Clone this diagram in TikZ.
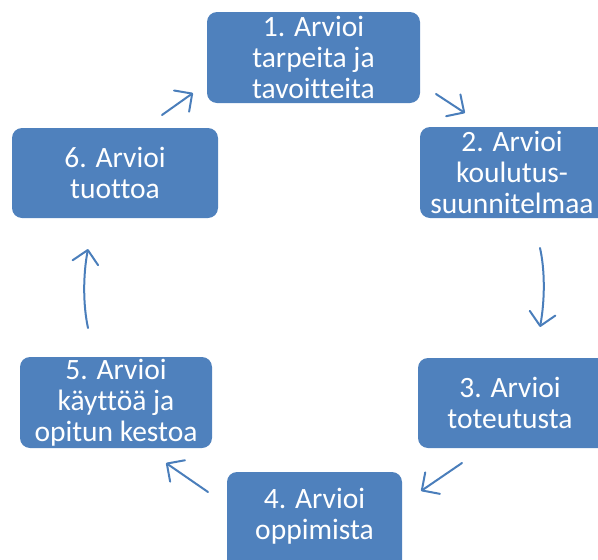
\documentclass[tikz,border=0pt]{standalone}
\usepackage{fontspec}
\setmainfont[Ligatures=NoCommon]{Carlito}
\usetikzlibrary{arrows.meta}
\definecolor{boxblue}{HTML}{4F81BD}
\definecolor{arrblue}{HTML}{4A7EBB}
\tikzset{
  stepbox/.style={fill=boxblue, draw=none, rounded corners=10pt, text=white, align=center,
    font=\fontsize{29.5}{31}\selectfont, inner sep=0pt},
  cyc/.style={draw=arrblue, line width=2pt, line cap=round,
    -{Straight Barb[length=13pt, width=26pt, line width=2pt, round]}}
}
\begin{document}
\begin{tikzpicture}[x=1pt,y=-1pt]
\useasboundingbox (0,0) rectangle (598,560);
% boxes (x1,y1,x2,y2 in px)
\path[stepbox] (207,12) rectangle (420,103);
\node[stepbox, fill=none] (b1) at (313.5,57.5) {1. Arvioi\\tarpeita ja\\tavoitteita};
\path[stepbox] (420,127) rectangle (610,218);
\node[stepbox, fill=none] (b2) at (512,172.5) {2. Arvioi\\koulutus-\\suunnitelmaa};
\path[stepbox] (418,358) rectangle (610,448);
\node[stepbox, fill=none] (b3) at (510,403) {3. Arvioi\\toteutusta};
\path[stepbox] (227,472) rectangle (402,572);
\node[stepbox, fill=none] (b4) at (314.5,516) {4. Arvioi\\oppimista};
\path[stepbox] (20,357) rectangle (212,448);
\node[stepbox, fill=none] (b5) at (116,402.5) {5. Arvioi\\käyttöä ja\\opitun kestoa};
\path[stepbox] (12,128) rectangle (218,218);
\node[stepbox, fill=none] (b6) at (115,173) {6. Arvioi\\tuottoa};
% arrow end points
\coordinate (a1s) at (436,94);
\coordinate (a1e) at (465,113);
\coordinate (a2s) at (540,248);
\coordinate (a2e) at (540,327);
\coordinate (a3s) at (462,463);
\coordinate (a3e) at (421,491);
\coordinate (a4s) at (208,492);
\coordinate (a4e) at (166,463);
\coordinate (a5s) at (88,328);
\coordinate (a5e) at (88,249);
\coordinate (a6s) at (162,115);
\coordinate (a6e) at (193,93);
\draw[cyc] (a1s) -- (a1e);
\draw[cyc] (a2s) .. controls (545,270) and (545,300) .. (a2e);
\draw[cyc] (a3s) -- (a3e);
\draw[cyc] (a4s) -- (a4e);
\draw[cyc] (a5s) .. controls (83,305) and (83,275) .. (a5e);
\draw[cyc] (a6s) -- (a6e);
\end{tikzpicture}
\end{document}
